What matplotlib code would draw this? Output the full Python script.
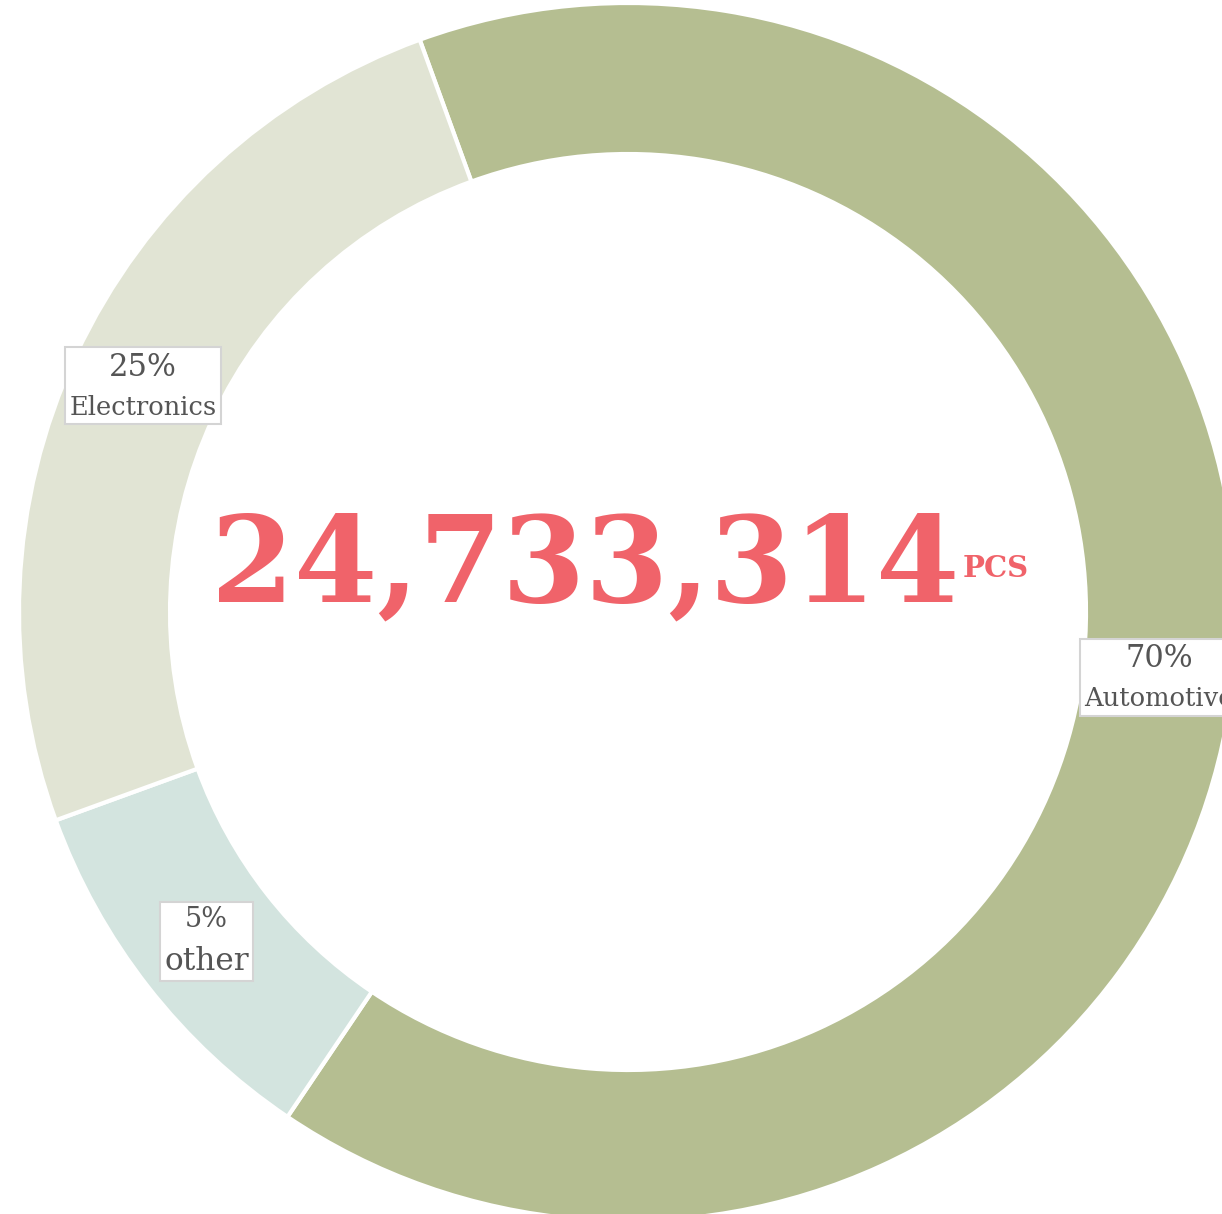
import matplotlib
matplotlib.use("Agg")
import matplotlib.pyplot as plt
import numpy as np
from matplotlib.offsetbox import TextArea, VPacker, AnnotationBbox

# slice order clockwise from the top boundary
categories = ["Automotive", "other", "Electronics"]
values = [65, 10, 25]
pct_labels = ["70%", "5%", "25%"]
colors = ["#B5BE91", "#D3E4DF", "#E1E4D4"]
total_text = "24,733,314"
unit_text = "PCS"

W, H = 1222, 1214
fig = plt.figure(figsize=(W / 100, H / 100), dpi=100)
ax = fig.add_axes([0, 0, 1, 1])

cx, cy = 628, H - 612
r_out, ring = 609, 151

wedges, _ = ax.pie(values, radius=r_out, center=(cx, cy), startangle=110,
                   counterclock=False, colors=colors,
                   wedgeprops=dict(width=ring, edgecolor="white", linewidth=3))
ax.set_xlim(0, W)
ax.set_ylim(0, H)
ax.set_aspect("equal")
ax.axis("off")

gray = "#555555"
pct_size = {"Automotive": 22, "other": 19.5, "Electronics": 22}
name_size = {"Automotive": 18.5, "other": 22.5, "Electronics": 18.5}
r_lab = 535
for w, cat, pct in zip(wedges, categories, pct_labels):
    mid = np.deg2rad((w.theta1 + w.theta2) / 2)
    x = cx + r_lab * np.cos(mid)
    y = cy + r_lab * np.sin(mid)
    t1 = TextArea(pct, textprops=dict(color=gray, fontsize=pct_size[cat],
                                      family="DejaVu Serif"))
    t2 = TextArea(cat, textprops=dict(color=gray, fontsize=name_size[cat],
                                      family="DejaVu Serif"))
    box = VPacker(children=[t1, t2], align="center", pad=0, sep=9)
    ab = AnnotationBbox(box, (x, y), frameon=True, pad=0.75,
                        bboxprops=dict(facecolor="white", edgecolor="#D4D4D4",
                                       linewidth=1.5, boxstyle="square"))
    ax.add_artist(ab)

red = "#F0636A"
ax.text(585, H - 601, total_text, ha="center", va="baseline", color=red,
        fontsize=86, fontweight="bold", family="DejaVu Serif")
ax.text(963, H - 577, unit_text, ha="left", va="baseline", color=red,
        fontsize=21, fontweight="bold", family="DejaVu Serif")

fig.savefig("out.png", dpi=100, facecolor="white")
